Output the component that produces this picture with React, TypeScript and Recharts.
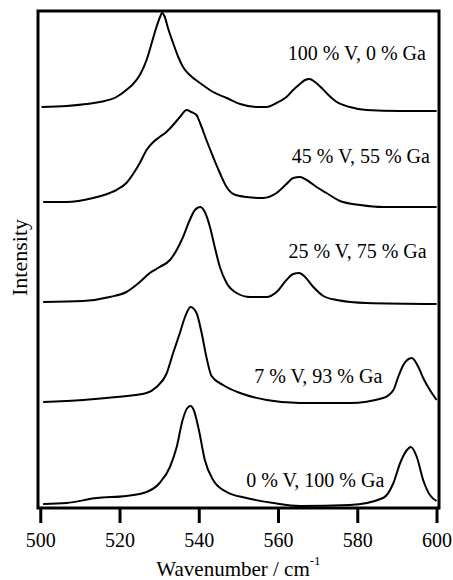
import React from 'react';
import { LineChart, Line, XAxis, YAxis, ReferenceArea, ReferenceDot } from 'recharts';

// wavenumber (cm-1), offset intensity (arb. units)
const v100: [number, number][] = [
  [500.2, 401], [506.5, 402], [511.5, 404], [514.9, 406], [519.1, 411], [521.6, 418], [523.3, 424],
  [525, 433], [526.7, 448], [528, 465], [529.2, 481], [530.1, 491], [530.6, 495], [531.3, 491],
  [532.1, 480], [533.4, 465], [534.7, 451], [535.9, 441], [537.6, 433], [540.2, 425], [543.5, 416],
  [546.9, 410], [550.3, 404], [554.5, 401], [557, 401], [559.5, 405], [562, 411], [563.7, 418],
  [565.4, 424], [566.7, 428], [567.8, 429], [569.2, 426], [570.9, 420], [572.6, 413], [574.7, 406],
  [578, 401], [582.2, 398], [590.7, 397], [599.9, 397],
];

const v45: [number, number][] = [
  [500.6, 306], [506.5, 306], [513.2, 310], [517.4, 315], [519.1, 318], [521.6, 325], [523.3, 334],
  [525, 345], [526.7, 358], [528.4, 366], [530, 371], [531.7, 376], [533.4, 383], [535.1, 391],
  [536.8, 398], [538, 396], [539.3, 393], [540.2, 385], [541.8, 368], [543.5, 351], [545.2, 335],
  [546.9, 321], [548.6, 314], [551.9, 311], [556.1, 310], [559.5, 315], [562, 324], [563.7, 330],
  [565.4, 331], [567.1, 328], [569.6, 321], [572.1, 315], [575.5, 307], [580.6, 303], [586.4, 301],
  [599.9, 301],
];

const v25: [number, number][] = [
  [500.6, 206], [510.7, 207], [517.4, 211], [521.6, 216], [525, 226], [527.5, 235], [530, 241],
  [532.6, 248], [534.3, 258], [535.9, 271], [537.6, 288], [538.9, 298], [540.2, 301], [541.4, 296],
  [542.7, 281], [543.9, 261], [545.2, 241], [546.9, 225], [549.4, 215], [552.8, 211], [557, 211],
  [559.5, 216], [562, 228], [563.7, 234], [565.2, 235], [566.7, 231], [568.8, 221], [571.3, 212],
  [574.7, 208], [582.2, 205], [599.9, 204],
];

const v7: [number, number][] = [
  [500.6, 106], [510.7, 108], [519.1, 111], [526.7, 115], [529.2, 121], [531.7, 134], [533.4, 155],
  [535.1, 175], [536.4, 191], [537.8, 201], [539.3, 195], [540.6, 175], [541.8, 151], [543.1, 132],
  [546, 123], [550.3, 115], [557, 108], [565.4, 105], [578, 105], [586.4, 110], [589, 118],
  [590.2, 131], [591.5, 143], [593.6, 150], [595.3, 141], [596.5, 130], [598.2, 118], [599.9, 108],
];

const v0: [number, number][] = [
  [500.6, 4], [506.5, 5], [514.1, 10], [521.6, 12], [526.7, 16], [530, 25], [532.6, 41], [534.3, 61],
  [535.8, 88], [537, 100], [537.8, 102], [538.6, 98], [539.9, 78], [541.4, 48], [543.5, 28],
  [546.9, 16], [551.9, 10], [558.7, 5], [565.4, 2], [578, 3], [586.4, 10], [589, 25], [590.7, 45],
  [592.4, 58], [593.4, 61], [594.9, 51], [596.5, 28], [598.2, 13], [599.9, 7],
];

const xTicks = [500, 520, 540, 560, 580, 600];

const seriesNames = ['100 % V, 0 % Ga', '45 % V, 55 % Ga', '25 % V, 75 % Ga', '7 % V, 93 % Ga', '0 % V, 100 % Ga'];
const labelWn = [597.2, 598.2, 597.4, 586.2, 586.7];
const labelInt = [448, 345, 250, 125, 21];

const series = [v100, v45, v25, v7, v0].map((pts) => pts.map(([wn, v]) => ({ wn, v })));

const serif = { fontFamily: 'Liberation Serif' };

const YTitle = ({ viewBox }: any) => {
  const cx = viewBox.x + 27;
  const cy = viewBox.y + viewBox.height / 2 - 2;
  return (
    <text x={cx} y={cy} transform={`rotate(-90 ${cx} ${cy})`} textAnchor="middle"
      style={serif} fontSize={22} fill="#000">
      Intensity
    </text>
  );
};

const XTitle = ({ viewBox }: any) => {
  const cx = viewBox.x + viewBox.width / 2;
  return (
    <text x={cx} y={viewBox.y + 68} textAnchor="middle" style={serif} fontSize={21} fill="#000">
      Wavenumber / cm<tspan dy={-11} fontSize={13}>-1</tspan>
    </text>
  );
};

export default function App() {
  return (
    <div style={{ position: 'absolute', left: 0, top: 0, background: '#fff', fontFamily: 'Liberation Serif' }}>
      <LineChart width={453} height={580} margin={{ top: 11, right: 14, bottom: 0, left: 0 }}>
        <XAxis
          type="number"
          dataKey="wn"
          domain={[499.3, 600.5]}
          ticks={xTicks}
          allowDataOverflow
          height={72}
          axisLine={false}
          tickSize={15}
          tickMargin={10}
          tickLine={{ stroke: '#000', strokeWidth: 3 }}
          tick={{ fill: '#000', fontSize: 20, style: serif }}
          label={<XTitle />}
        />
        <YAxis
          type="number"
          domain={[0, 497]}
          allowDataOverflow
          width={38}
          tick={false}
          tickLine={false}
          axisLine={false}
          label={<YTitle />}
        />
        <ReferenceArea x1={499.3} x2={600.5} y1={0} y2={497} fill="none" stroke="#000" strokeWidth={3} />
        {series.map((d, i) => (
          <Line
            key={seriesNames[i]}
            data={d}
            dataKey="v"
            type="monotone"
            stroke="#000"
            strokeWidth={2}
            dot={false}
            isAnimationActive={false}
          />
        ))}
        {seriesNames.map((name, i) => (
          <ReferenceDot
            key={name}
            x={labelWn[i]}
            y={labelInt[i]}
            r={0}
            shape={(p: any) => (
              <text x={p.cx} y={p.cy} textAnchor="end" style={serif} fontSize={20} fill="#000">
                {name}
              </text>
            )}
          />
        ))}
      </LineChart>
    </div>
  );
}
